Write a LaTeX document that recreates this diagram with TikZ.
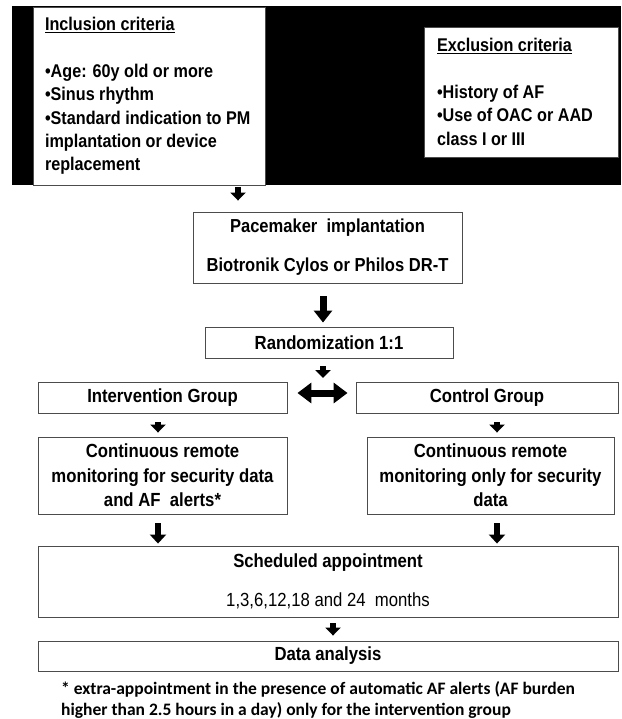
\documentclass[tikz,border=0pt]{standalone}
\usepackage{fontspec}
\setmainfont{Liberation Sans}[FakeStretch=0.88]
\newfontfamily\notefont{Carlito}
\usetikzlibrary{arrows.meta}
\tikzset{
  box/.style={draw=black!70, line width=0.9pt, fill=white, inner sep=0pt, align=center,
    font=\bfseries\fontsize{19}{24}\selectfont},
  smallarrow/.style={line width=6pt, -{Triangle[width=15pt,length=8pt]}},
  medarrow/.style={line width=6pt, -{Triangle[width=16pt,length=9pt]}},
  bigarrow/.style={line width=7pt, -{Triangle[width=18pt,length=12pt]}},
  dblarrow/.style={line width=7pt, {Triangle[width=20pt,length=14pt]}-{Triangle[width=20pt,length=14pt]}},
}
\begin{document}
\begin{tikzpicture}[x=1pt,y=-1pt]
\useasboundingbox (0,0) rectangle (621,719);
\fill[black] (12,6) rectangle (621,185);
\node[box, minimum width=232pt, minimum height=178pt, text width=208pt, align=flush left, font=\bfseries\fontsize{18.4}{23.4}\selectfont] (inc) at (149,96)
  {\underline{Inclusion criteria}\\[23.4pt]
   •Age: 60y old or more\\
   •Sinus rhythm\\
   •Standard indication to PM\\
   implantation or device\\
   replacement};
\node[box, minimum width=194pt, minimum height=130pt, text width=168pt, align=flush left, font=\bfseries\fontsize{18.4}{23.4}\selectfont] (exc) at (521,92)
  {\underline{Exclusion criteria}\\[23.4pt]
   •History of AF\\
   •Use of OAC or AAD\\
   class I or III};
\node[box, minimum width=269pt, minimum height=71pt, font=\bfseries\fontsize{18.8}{23}\selectfont] (pace) at (327.5,247.5)
  {Pacemaker \ implantation\\[16pt] Biotronik Cylos or Philos DR-T};
\node[box, minimum width=248pt, minimum height=31pt] (rand) at (329,342.5) {Randomization 1:1};
\node[box, minimum width=249pt, minimum height=31pt] (interv) at (162.5,397.5) {Intervention Group};
\node[box, minimum width=262pt, minimum height=31pt] (ctrl) at (487,397.5) {Control Group};
\node[box, minimum width=249pt, minimum height=77pt, font=\bfseries\fontsize{19}{24.5}\selectfont] (lcont) at (162.5,475.5)
  {Continuous remote\\ monitoring for security data\\ and AF \ alerts*};
\node[box, minimum width=247pt, minimum height=77pt, font=\bfseries\fontsize{19}{24.5}\selectfont] (rcont) at (490.5,475.5)
  {Continuous remote\\ monitoring only for security\\ data};
\node[box, minimum width=580pt, minimum height=71pt] (sched) at (328,581.5)
  {Scheduled appointment\\[15pt] {\mdseries 1,3,6,12,18 and 24 \ months}};
\node[box, minimum width=580pt, minimum height=30pt] (data) at (328,656) {Data analysis};
\node[anchor=north west, inner sep=0pt, align=flush left, font=\notefont\bfseries\fontsize{17.5}{21}\selectfont] (note) at (61,681)
  {* extra-appointment in the presence of automatic AF alerts (AF burden\\
   higher than 2.5 hours in a day) only for the intervention group};
% x positions for connectors
\coordinate (xa) at (238,0);
\coordinate (xb) at (323,0);
\coordinate (xl) at (158,0);
\coordinate (xr) at (497,0);
\coordinate (xs) at (333,0);
\coordinate (yd) at (0,393);
\coordinate (a3e) at (323,378);
\draw[smallarrow, shorten <=2pt, shorten >=11pt] (inc.south -| xa) -- (pace.north -| xa);
\draw[bigarrow, shorten <=13pt, shorten >=4pt] (pace.south -| xb) -- (rand.north -| xb);
\draw[smallarrow, shorten <=8pt] (rand.south -| xb) -- (a3e);
\draw[dblarrow, shorten <=10pt, shorten >=8pt] (interv.east |- yd) -- (ctrl.west |- yd);
\draw[smallarrow, shorten <=9pt, shorten >=4pt] (interv.south -| xl) -- (lcont.north -| xl);
\draw[smallarrow, shorten <=9pt, shorten >=4pt] (ctrl.south -| xr) -- (rcont.north -| xr);
\draw[medarrow, shorten <=9pt, shorten >=2pt] (lcont.south -| xl) -- (sched.north -| xl);
\draw[medarrow, shorten <=9pt, shorten >=2pt] (rcont.south -| xr) -- (sched.north -| xr);
\draw[smallarrow, shorten <=6pt, shorten >=5pt] (sched.south -| xs) -- (data.north -| xs);
\end{tikzpicture}
\end{document}
